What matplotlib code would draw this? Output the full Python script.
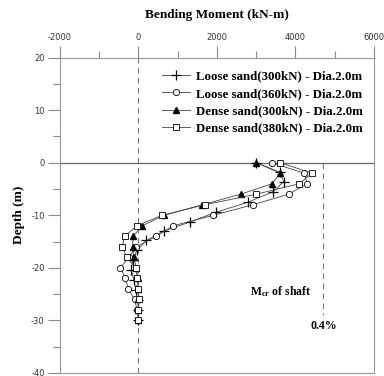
import matplotlib
matplotlib.use('Agg')
import matplotlib.pyplot as plt
from matplotlib.ticker import MultipleLocator

plt.rcParams['mathtext.fontset'] = 'custom'
plt.rcParams['mathtext.rm'] = 'Liberation Serif:bold'
plt.rcParams['mathtext.bf'] = 'Liberation Serif:bold'
plt.rcParams['axes.unicode_minus'] = False

# depth (m) and bending moment (kN-m)
depth = [0, -2, -4, -6, -8, -10, -12, -14, -16, -18, -20, -22, -24, -26, -28, -30]
depth_loose300 = [0, -1.8, -3.6, -5.5, -7.5, -9.4, -11.3, -13.0, -14.8, -16.6,
                  -18.5, -20.4, -22.3, -24.2, -26.1, -28.0, -30.0]

loose300 = [3000, 3600, 3700, 3430, 2800, 1985, 1305, 644, 204, -30,
            -150, -180, -120, -60, -20, 0, 0]
loose360 = [3400, 4220, 4300, 3825, 2910, 1910, 890, 450, -50, -250,
            -458, -330, -260, -100, -33, 0]
dense300 = [3003, 3613, 3402, 2600, 1630, 662, 94, -135, -150, -120,
            -50, -15, 0, 0, 0, 0]
dense380 = [3613, 4420, 4097, 3000, 1690, 603, -40, -350, -410, -300,
            -70, -25, 0, 5, 0, 0]

labels = ['Loose sand(300kN) - Dia.2.0m', 'Loose sand(360kN) - Dia.2.0m',
          'Dense sand(300kN) - Dia.2.0m', 'Dense sand(380kN) - Dia.2.0m']

m_cr = 4710

fig = plt.figure(figsize=(3.84, 3.76), dpi=100)
ax = fig.add_axes([0.156, 0.008, 0.818, 0.839])

lc = '#444444'
ax.plot(loose300, depth_loose300, color=lc, lw=0.6, marker='+', ms=7, mec='black',
        mew=0.9, label=labels[0])
ax.plot(loose360, depth, color=lc, lw=0.6, marker='o', ms=4.5, mfc='white', mec='black',
        mew=0.6, label=labels[1])
ax.plot(dense300, depth, color=lc, lw=0.6, marker='^', ms=4.5, mfc='black', mec='black',
        label=labels[2])
ax.plot(dense380, depth, color=lc, lw=0.6, marker='s', ms=5, mfc='white', mec='black',
        mew=0.6, label=labels[3])

ax.axhline(0, color='#666666', lw=0.9, zorder=0)
ax.axvline(0, color='#777777', lw=0.8, ls=(0, (5, 4)), zorder=0)
ax.plot([m_cr, m_cr], [0, -29], color='#777777', lw=0.8, ls=(0, (5, 4)), zorder=0)

ax.text(2850, -24.6, r'$\mathrm{M_{cr}}$ of shaft', fontsize=8.5, family='Liberation Serif',
        fontweight='bold', va='center', ha='left')
ax.text(4730, -31.1, '0.4%', fontsize=8.5, family='Liberation Serif',
        fontweight='bold', va='center', ha='center')

ax.set_xlim(-2000, 6000)
ax.set_ylim(-40, 20)
ax.xaxis.tick_top()
ax.xaxis.set_label_position('top')
ax.xaxis.set_major_locator(MultipleLocator(2000))
ax.xaxis.set_minor_locator(MultipleLocator(1000))
ax.yaxis.set_major_locator(MultipleLocator(10))
ax.yaxis.set_minor_locator(MultipleLocator(5))
ax.tick_params(which='major', length=9, width=0.8, color='#888888', labelsize=6,
               labelcolor='#333333', pad=2)
ax.tick_params(which='minor', length=5, width=0.8, color='#888888')
for s in ax.spines.values():
    s.set_color('#999999')
    s.set_linewidth(0.8)

ax.set_xlabel('Bending Moment (kN-m)', family='Liberation Serif', fontweight='bold',
              fontsize=9.5, labelpad=11)
ax.set_ylabel('Depth (m)', family='Liberation Serif', fontweight='bold', fontsize=9.5,
              labelpad=4)

ax.legend(loc='upper right', bbox_to_anchor=(1.0, 0.995), frameon=False,
          prop={'family': 'Liberation Serif', 'weight': 'bold', 'size': 9.3},
          handlelength=2.2, handletextpad=0.4, labelspacing=0.4)

fig.savefig('out.png', dpi=100)
